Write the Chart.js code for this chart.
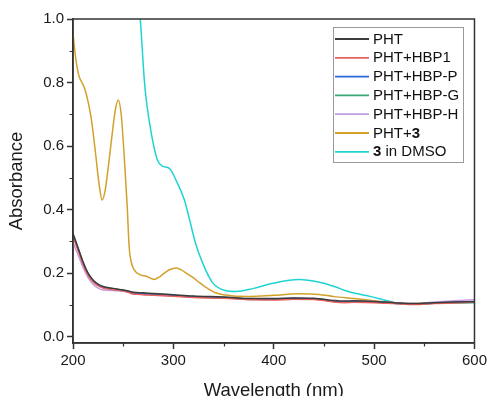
<!DOCTYPE html>
<html lang="en">
  <head>
    <meta charset="UTF-8" />
    <title>Absorbance spectra</title>
    <script src="https://cdn.jsdelivr.net/npm/chart.js"></script>
    <style>
      html, body { margin: 0; padding: 0; background: #fff; }
      #wrap { width: 490px; height: 396px; overflow: hidden; position: relative; }
      canvas { display: block; }
    </style>
  </head>
  <body>
    <div id="wrap">
      <canvas id="spectra" width="490" height="406" style="width:490px;height:406px"></canvas>
    </div>

<script>
// wavelengths (nm) and absorbances
const wlLow = [200, 205, 210, 215, 220, 225, 230, 240, 250, 255, 260, 270, 280, 300, 320, 350, 380, 400, 420, 440, 460, 470, 480, 500, 520, 540, 560, 580, 600];
const pht     = [0.325, 0.28, 0.235, 0.2, 0.178, 0.165, 0.158, 0.152, 0.147, 0.144, 0.140, 0.138, 0.136, 0.132, 0.128, 0.125, 0.120, 0.120, 0.122, 0.121, 0.114, 0.112, 0.113, 0.111, 0.107, 0.104, 0.107, 0.109, 0.110];
const phtHbp1 = [0.315, 0.272, 0.228, 0.194, 0.172, 0.160, 0.153, 0.148, 0.144, 0.140, 0.134, 0.132, 0.130, 0.127, 0.123, 0.121, 0.116, 0.115, 0.118, 0.117, 0.109, 0.107, 0.108, 0.107, 0.104, 0.101, 0.104, 0.106, 0.108];
const phtHbpP = [0.320, 0.276, 0.232, 0.197, 0.175, 0.162, 0.155, 0.150, 0.145, 0.142, 0.137, 0.135, 0.133, 0.129, 0.125, 0.123, 0.118, 0.118, 0.120, 0.119, 0.111, 0.109, 0.110, 0.109, 0.105, 0.102, 0.106, 0.108, 0.111];
const phtHbpG = [0.322, 0.278, 0.233, 0.198, 0.176, 0.163, 0.156, 0.150, 0.146, 0.142, 0.137, 0.135, 0.133, 0.130, 0.126, 0.123, 0.118, 0.118, 0.120, 0.119, 0.111, 0.109, 0.111, 0.109, 0.105, 0.102, 0.105, 0.107, 0.108];
const phtHbpH = [0.297, 0.258, 0.218, 0.186, 0.165, 0.153, 0.147, 0.145, 0.143, 0.140, 0.134, 0.133, 0.131, 0.128, 0.124, 0.122, 0.117, 0.117, 0.120, 0.119, 0.112, 0.110, 0.112, 0.111, 0.107, 0.104, 0.109, 0.113, 0.116];

const wlPht3 = [200, 203, 206, 209, 212, 215, 218, 222, 226, 229, 232, 235, 238, 242, 245, 248, 251, 254, 256, 258, 261, 266, 273, 281, 287, 293, 298, 303, 308, 315, 320, 326, 334, 342, 350, 375, 400, 425, 445, 460, 480, 500, 520, 535, 560, 580, 600];
const pht3   = [0.955, 0.87, 0.82, 0.80, 0.777, 0.74, 0.69, 0.59, 0.48, 0.43, 0.46, 0.53, 0.61, 0.71, 0.745, 0.70, 0.57, 0.41, 0.28, 0.235, 0.21, 0.196, 0.19, 0.18, 0.19, 0.205, 0.213, 0.216, 0.21, 0.195, 0.185, 0.17, 0.152, 0.138, 0.132, 0.126, 0.130, 0.135, 0.133, 0.126, 0.120, 0.113, 0.106, 0.104, 0.107, 0.109, 0.110];

const wlDmso = [262, 267, 271, 273, 278, 284, 289, 296, 303, 311, 316, 322, 329, 339, 352, 362, 380, 398, 425, 445, 461, 474, 497, 521, 535, 560, 600];
const dmso3  = [1.15, 1.0, 0.81, 0.745, 0.64, 0.557, 0.537, 0.53, 0.49, 0.43, 0.37, 0.295, 0.233, 0.17, 0.145, 0.142, 0.152, 0.167, 0.18, 0.172, 0.157, 0.142, 0.126, 0.107, 0.103, 0.105, 0.107];

const xTicks = [200, 300, 400, 500, 600];
const xMinorTicks = [250, 350, 450, 550];
const yTicks = [0.0, 0.2, 0.4, 0.6, 0.8, 1.0];
const yMinorTicks = [0.1, 0.3, 0.5, 0.7, 0.9];

// legend labels, [text, bold] pieces
const legendLabels = [
  [["PHT", false]],
  [["PHT+HBP1", false]],
  [["PHT+HBP-P", false]],
  [["PHT+HBP-G", false]],
  [["PHT+HBP-H", false]],
  [["PHT+", false], ["3", true]],
  [["3", true], [" in DMSO", false]]
];

const FONT = "'Liberation Sans', Arial, sans-serif";
const AXIS = "#333";

function pts(xs, ys) {
  return xs.map((x, i) => ({ x: x, y: ys[i] }));
}

function line(label, xs, ys, color) {
  return {
    label: label,
    data: pts(xs, ys),
    borderColor: color,
    backgroundColor: color,
    borderWidth: 1.5,
    pointRadius: 0,
    cubicInterpolationMode: "monotone"
  };
}

// frame, minor ticks and the boxed legend
const decor = {
  id: "decor",
  afterDraw(chart) {
    const { ctx, chartArea: a } = chart;
    const xs = chart.scales.x, ys = chart.scales.y;
    ctx.save();
    ctx.strokeStyle = AXIS;
    ctx.lineWidth = 1.5;
    ctx.strokeRect(a.left, a.top, a.right - a.left, a.bottom - a.top);

    ctx.lineWidth = 1.2;
    ctx.beginPath();
    xMinorTicks.forEach(v => {
      const px = Math.round(xs.getPixelForValue(v)) + 0.5;
      ctx.moveTo(px, a.bottom);
      ctx.lineTo(px, a.bottom + 3.5);
    });
    yMinorTicks.forEach(v => {
      const py = Math.round(ys.getPixelForValue(v)) + 0.5;
      ctx.moveTo(a.left, py);
      ctx.lineTo(a.left - 3.5, py);
    });
    ctx.stroke();

    // legend
    const bx = 333.5, by = 27.5, bw = 130, bh = 135;
    ctx.fillStyle = "#fff";
    ctx.fillRect(bx, by, bw, bh);
    ctx.strokeStyle = "#9a9a9a";
    ctx.lineWidth = 1;
    ctx.strokeRect(bx, by, bw, bh);

    ctx.textBaseline = "middle";
    chart.data.datasets.forEach((ds, i) => {
      const y = 39 + i * 18.8;
      ctx.strokeStyle = ds.borderColor;
      ctx.lineWidth = 1.8;
      ctx.beginPath();
      ctx.moveTo(335, y);
      ctx.lineTo(369, y);
      ctx.stroke();
      let tx = 373;
      legendLabels[i].forEach(([t, b]) => {
        ctx.font = (b ? "bold " : "") + "15px " + FONT;
        ctx.fillStyle = "#111";
        ctx.fillText(t, tx, y + 0.5);
        tx += ctx.measureText(t).width;
      });
    });
    ctx.restore();
  }
};

new Chart(document.getElementById("spectra"), {
  type: "line",
  data: {
    datasets: [
      line("PHT", wlLow, pht, "#3c3c3c"),
      line("PHT+HBP1", wlLow, phtHbp1, "#e8625e"),
      line("PHT+HBP-P", wlLow, phtHbpP, "#2a6ad8"),
      line("PHT+HBP-G", wlLow, phtHbpG, "#3aa676"),
      line("PHT+HBP-H", wlLow, phtHbpH, "#c49ee2"),
      line("PHT+3", wlPht3, pht3, "#d2a12a"),
      line("3 in DMSO", wlDmso, dmso3, "#1fd3d3")
    ]
  },
  options: {
    responsive: false,
    animation: false,
    devicePixelRatio: 1,
    layout: { padding: { top: 19, right: 13, left: 0, bottom: 0 } },
    plugins: {
      legend: { display: false },
      tooltip: { enabled: false }
    },
    scales: {
      x: {
        type: "linear",
        min: 200,
        max: 600,
        afterFit: s => { s.height = 63; },
        afterBuildTicks: s => { s.ticks = xTicks.map(v => ({ value: v })); },
        grid: { drawOnChartArea: false, tickLength: 6, tickColor: AXIS, tickWidth: 1.5 },
        border: { color: AXIS, width: 1.5 },
        ticks: { color: "#1a1a1a", padding: 3, maxRotation: 0, font: { family: FONT, size: 15 } },
        title: {
          display: true,
          text: "Wavelength (nm)",
          color: "#1a1a1a",
          padding: { top: 0, bottom: 4 },
          font: { family: FONT, size: 18.5 }
        }
      },
      y: {
        type: "linear",
        min: -0.02,
        max: 1.0,
        afterFit: s => { s.width = 73; },
        afterBuildTicks: s => { s.ticks = yTicks.map(v => ({ value: v })); },
        grid: { drawOnChartArea: false, tickLength: 6, tickColor: AXIS, tickWidth: 1.5 },
        border: { color: AXIS, width: 1.5 },
        ticks: {
          color: "#1a1a1a",
          padding: 3,
          font: { family: FONT, size: 15 },
          callback: v => v.toFixed(1)
        },
        title: {
          display: true,
          text: "Absorbance",
          color: "#1a1a1a",
          padding: { top: 6, bottom: 0 },
          font: { family: FONT, size: 18.5 }
        }
      }
    }
  },
  plugins: [decor]
});
</script>
  </body>
</html>
